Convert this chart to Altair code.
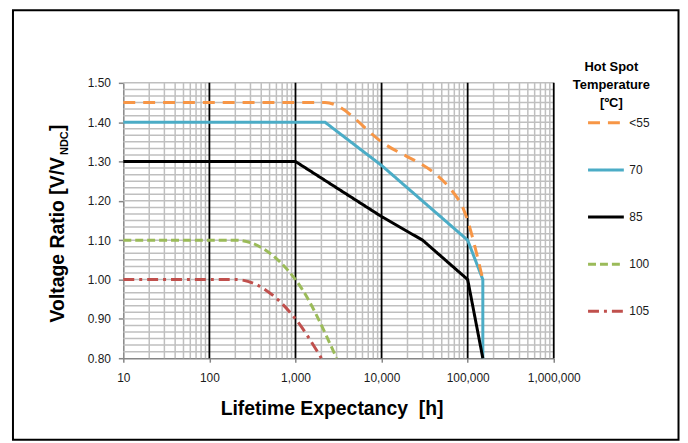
import altair as alt
import pandas as pd

# ---------------- data ----------------
temps = ["<55", "70", "85", "100", "105"]
colors = ["#F79646", "#4BACC6", "#000000", "#9BBB59", "#C0504D"]
dashes = [[12, 8], [1, 0], [1, 0], [8, 4], [11, 5, 3, 5]]

hours_55 = [10, 2200, 10000, 80000, 150000]
ratio_55 = [1.45, 1.45, 1.35, 1.20, 1.00]

hours_70 = [10, 2200, 10000, 100000, 150000, 150000]
ratio_70 = [1.40, 1.40, 1.29, 1.10, 1.00, 0.80]

hours_85 = [10, 1000, 10000, 30000, 100000, 150000]
ratio_85 = [1.30, 1.30, 1.16, 1.10, 1.00, 0.80]

hours_100 = [10, 200, 1000, 3000]
ratio_100 = [1.10, 1.10, 1.00, 0.80]

hours_105 = [10, 200, 1000, 2000]
ratio_105 = [1.00, 1.00, 0.90, 0.80]

x_ticks = [10, 100, 1000, 10000, 100000, 1000000]
y_ticks = [0.8, 0.9, 1.0, 1.1, 1.2, 1.3, 1.4, 1.5]

series = [
    ("<55", hours_55, ratio_55, True),
    ("70", hours_70, ratio_70, False),
    ("85", hours_85, ratio_85, False),
    ("100", hours_100, ratio_100, True),
    ("105", hours_105, ratio_105, True),
]
rows = []
for name, hs, rs, smooth in series:
    for i, (h, r) in enumerate(zip(hs, rs)):
        rows.append({"temp": name, "hours": h, "ratio": r, "idx": i, "smooth": smooth})
df = pd.DataFrame(rows)

minor_x = [m * 10 ** d for d in range(1, 6) for m in range(2, 10)]
major_x = x_ticks[1:]
grid_y = [round(0.8 + k / 60, 6) for k in range(1, 43)]

FONT = "Liberation Sans"
xscale = alt.Scale(type="log", domain=[10, 1000000], nice=False)
yscale = alt.Scale(domain=[0.8, 1.5], zero=False, nice=False)

xaxis = alt.Axis(values=x_ticks, format=",.0f", grid=False, title=None,
                 domainColor="#868686", domainWidth=1.5, tickColor="#868686",
                 tickWidth=1.5, tickSize=4, labelPadding=10, labelFont=FONT,
                 labelFontSize=12, labelColor="#1a1a1a", labelFlush=False,
                 labelOverlap=False)
yaxis = alt.Axis(values=y_ticks, format=".2f", grid=False, title=None,
                 domainColor="#868686", domainWidth=1.5, tickColor="#868686",
                 tickWidth=1.5, tickSize=5, labelPadding=8, labelFont=FONT,
                 labelFontSize=12, labelColor="#1a1a1a", labelFlush=False,
                 labelOverlap=False)

color = alt.Color("temp:N", scale=alt.Scale(domain=temps, range=colors),
                  sort=temps,
                  legend=alt.Legend(title=None, orient="none", legendX=466,
                                    legendY=20.7, symbolType="stroke",
                                    symbolSize=1296, symbolStrokeWidth=3,
                                    rowPadding=21.4, labelOffset=4,
                                    labelFont=FONT, labelFontSize=12,
                                    labelColor="#1a1a1a", padding=0))
dash = alt.StrokeDash("temp:N", scale=alt.Scale(domain=temps, range=dashes),
                      sort=temps, legend=None)

one = pd.DataFrame({"a": [0]})

border = alt.Chart(one).mark_rect(filled=False, stroke="black", strokeWidth=2).encode(
    x=alt.value(-111), x2=alt.value(558.5), y=alt.value(-73), y2=alt.value(359))

vminor = alt.Chart(pd.DataFrame({"v": minor_x})).mark_rule(
    color="#BFBFBF", strokeWidth=1.5).encode(x=alt.X("v:Q", scale=xscale, axis=xaxis))
hgrid = alt.Chart(pd.DataFrame({"v": grid_y})).mark_rule(
    color="#BFBFBF", strokeWidth=1.5).encode(y=alt.Y("v:Q", scale=yscale, axis=yaxis))
vmajor = alt.Chart(pd.DataFrame({"v": major_x})).mark_rule(
    color="black", strokeWidth=1.8).encode(x=alt.X("v:Q", scale=xscale, axis=xaxis))

base = alt.Chart(df).encode(
    x=alt.X("hours:Q", scale=xscale, axis=xaxis),
    y=alt.Y("ratio:Q", scale=yscale, axis=yaxis),
    color=color, strokeDash=dash, order="idx:Q")
lin = base.transform_filter("!datum.smooth").mark_line(strokeWidth=3)
smo = base.transform_filter("datum.smooth").mark_line(strokeWidth=3, interpolate="monotone")

xtitle = alt.Chart(one).mark_text(text="Lifetime Expectancy \u00a0[h]", font=FONT,
                                  fontWeight="bold", fontSize=19.5, align="center",
                                  baseline="alphabetic").encode(
    x=alt.value(210), y=alt.value(334))
yt1 = alt.Chart(one).mark_text(text="Voltage Ratio [V/V", font=FONT, fontWeight="bold",
                               fontSize=19.5, angle=270, align="left",
                               baseline="alphabetic").encode(
    x=alt.value(-60), y=alt.value(241))
yt2 = alt.Chart(one).mark_text(text="NDC", font=FONT, fontWeight="bold",
                               fontSize=11, angle=270, align="left",
                               baseline="alphabetic").encode(
    x=alt.value(-56), y=alt.value(72.5))
yt3 = alt.Chart(one).mark_text(text="]", font=FONT, fontWeight="bold",
                               fontSize=19.5, angle=270, align="left",
                               baseline="alphabetic").encode(
    x=alt.value(-60), y=alt.value(48.5))
ltitle = alt.Chart(one).mark_text(text=["Hot Spot", "Temperature", "[ºC]"], font=FONT,
                                  fontWeight="bold", fontSize=13, lineHeight=18,
                                  align="center", baseline="top").encode(
    x=alt.value(491), y=alt.value(-22))

chart = alt.layer(border, vminor, hgrid, vmajor, lin, smo, xtitle, yt1, yt2, yt3, ltitle).properties(
    width=433, height=277, autosize="none",
    padding={"left": 116, "top": 74, "right": 127, "bottom": 84},
).configure_view(stroke=None)

chart.save("out.html", embed_options={"renderer": "svg", "actions": False})
